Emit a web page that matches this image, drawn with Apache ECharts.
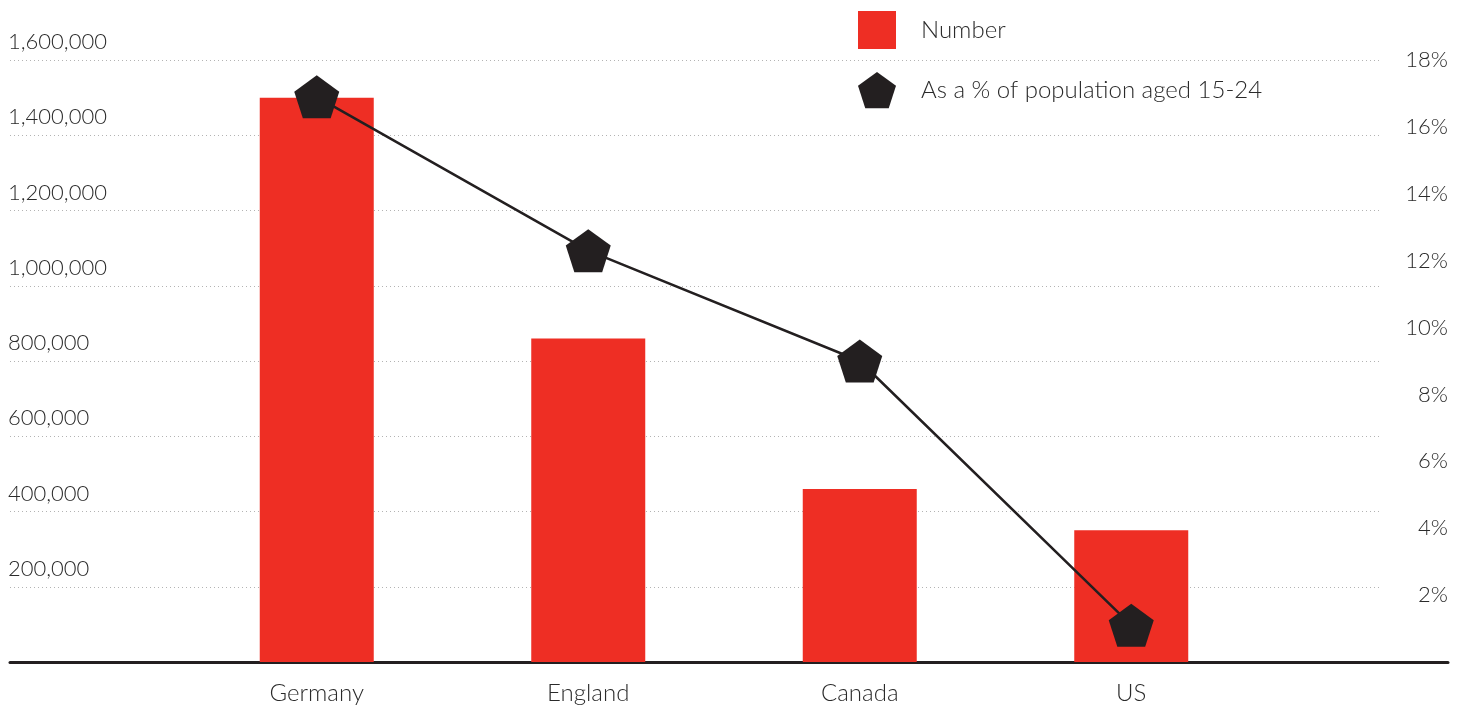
<!DOCTYPE html>
<html>
<head>
<meta charset="utf-8">
<script src="https://cdn.jsdelivr.net/npm/echarts@6/dist/echarts.min.js"></script>
<style>
html,body{margin:0;padding:0;background:#fff;}
#c{width:1465px;height:706px;}
</style>
</head>
<body>
<div id="c"></div>
<script>
const categories = ['Germany', 'England', 'Canada', 'US'];
const numberValues = [1500000, 860000, 460000, 350000];
const percentValues = [16.9, 12.3, 9.0, 1.1];
const leftTicks = { min: 0, max: 1600000, interval: 200000 };
const rightTicks = { min: 0, max: 18, interval: 2 };
const seriesNames = ['Number', 'As a % of population aged 15-24'];

const pentagon = 'path://M0,-1 L0.951,-0.309 L0.588,0.809 L-0.588,0.809 L-0.951,-0.309 Z';
const FONT = 'Lato';
const FW = 300;
const TXT = '#2a2a2a';
const RED = '#ee2e24';
const DARK = '#231f20';

const chart = echarts.init(document.getElementById('c'), null, { renderer: 'canvas' });
chart.setOption({
  animation: false,
  backgroundColor: '#ffffff',
  textStyle: { fontFamily: FONT },
  legend: {
    orient: 'vertical',
    left: 853,
    top: 6,
    itemWidth: 38,
    itemHeight: 38,
    itemGap: 23,
    textStyle: { fontFamily: FONT, fontWeight: FW, fontSize: 24, color: TXT, padding: [2, 0, 0, 20] },
    data: [
      { name: seriesNames[0], icon: 'rect' },
      { name: seriesNames[1], icon: pentagon }
    ]
  },
  grid: [
    { left: 10, right: 85, top: 60, bottom: 44 },
    { left: 181, right: 198, top: 60, bottom: 44 },
    { left: 10, right: 17, top: 60, bottom: 44 }
  ],
  xAxis: [
    { type: 'value', gridIndex: 0, show: false, min: 0, max: 1 },
    {
      type: 'category', gridIndex: 1, data: categories,
      axisLine: { show: false }, axisTick: { show: false },
      axisLabel: { fontFamily: FONT, fontWeight: FW, fontSize: 24, color: TXT, margin: 19 }
    },
    {
      type: 'value', gridIndex: 2, min: 0, max: 1,
      axisLine: { show: true, onZero: false, lineStyle: { color: DARK, width: 3 } },
      axisTick: { show: false }, axisLabel: { show: false }, splitLine: { show: false }
    }
  ],
  yAxis: [
    {
      type: 'value', gridIndex: 0,
      min: leftTicks.min, max: leftTicks.max, interval: leftTicks.interval,
      axisLine: { show: false }, axisTick: { show: false },
      axisLabel: {
        fontFamily: FONT, fontWeight: FW, fontSize: 22, color: TXT, align: 'left', margin: 2,
        verticalAlign: 'bottom', padding: [0, 0, 7, 0],
        formatter: v => v === 0 ? '' : v.toLocaleString('en-US')
      },
      splitLine: { show: true, lineStyle: { color: '#b3b3b3', type: [1, 3], width: 1 } }
    },
    {
      type: 'value', gridIndex: 1, show: false,
      min: leftTicks.min, max: leftTicks.max, interval: leftTicks.interval
    },
    {
      type: 'value', gridIndex: 1, position: 'right', offset: 181,
      min: rightTicks.min, max: rightTicks.max, interval: rightTicks.interval,
      axisLine: { show: false }, axisTick: { show: false }, splitLine: { show: false },
      axisLabel: {
        fontFamily: FONT, fontWeight: FW, fontSize: 22, color: TXT, align: 'right', margin: 0,
        padding: [0, 0, 6, 0],
        formatter: v => v === 0 ? '' : v + '%'
      }
    },
    { type: 'value', gridIndex: 2, show: false, min: 0, max: 1 }
  ],
  series: [
    {
      name: seriesNames[0], type: 'bar', xAxisIndex: 1, yAxisIndex: 1,
      data: numberValues, barWidth: 114,
      itemStyle: { color: RED }, z: 2
    },
    {
      name: seriesNames[1], type: 'line', xAxisIndex: 1, yAxisIndex: 2,
      data: percentValues, symbol: pentagon, symbolSize: [45, 43],
      lineStyle: { color: DARK, width: 2.5 },
      itemStyle: { color: DARK, opacity: 1 }, z: 5
    }
  ]
});
</script>
</body>
</html>
